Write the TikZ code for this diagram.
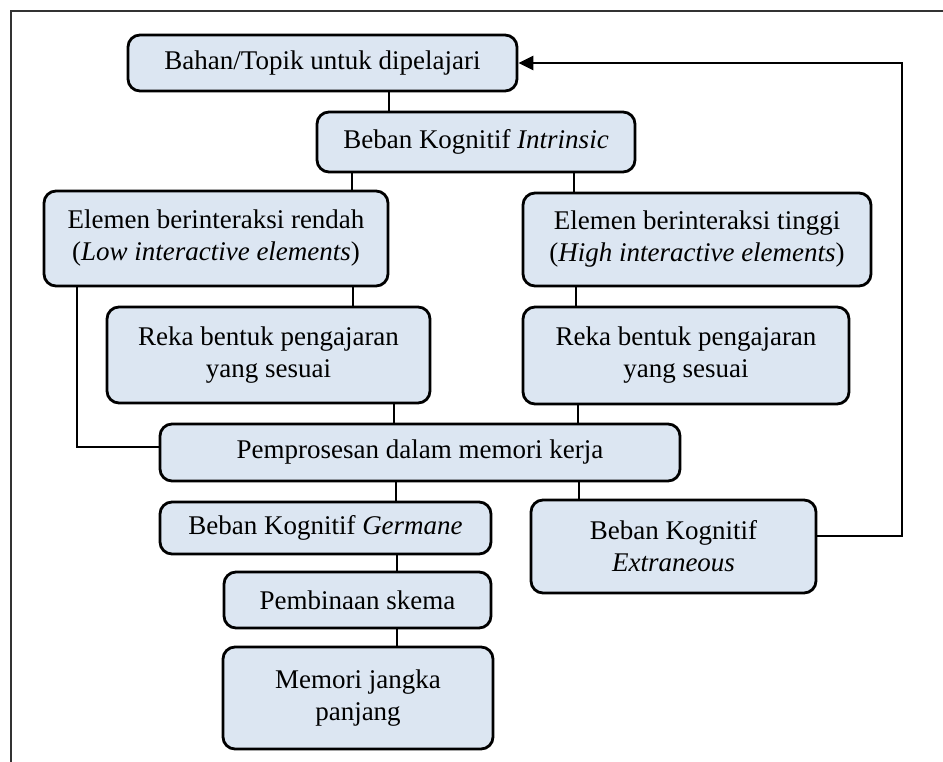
\documentclass[tikz,border=0pt]{standalone}
\usepackage{fontspec}
\setmainfont{Liberation Serif}
\usetikzlibrary{arrows.meta}
\definecolor{boxfill}{HTML}{DCE6F2}
\begin{document}
\begin{tikzpicture}[x=1pt,y=-1pt,
  box/.style={draw=black, fill=boxfill, line width=2.8pt, rounded corners=12pt,
    inner sep=0pt, align=center, font=\fontsize{27}{32}\selectfont},
  link/.style={line width=2.8pt, draw=black},
  frame/.style={line width=1.6pt, draw=black!80}]
\useasboundingbox (0,0) rectangle (943,762);
\draw[frame] (11,762) -- (11,11) -- (943,11);

\node[box, minimum width=389pt, minimum height=56pt] (bahan) at (322.5,63) {Bahan/Topik untuk dipelajari};
\node[box, minimum width=318pt, minimum height=60pt] (intr) at (476,142) {Beban Kognitif \textit{Intrinsic}};
\node[box, minimum width=344pt, minimum height=95pt] (low) at (216,238.5) {Elemen berinteraksi rendah\\(\textit{Low interactive elements})};
\node[box, minimum width=348pt, minimum height=93pt] (high) at (697,239.5) {Elemen berinteraksi tinggi\\(\textit{High interactive elements})};
\node[box, minimum width=323pt, minimum height=96pt] (rekaL) at (268.5,355) {Reka bentuk pengajaran\\yang sesuai};
\node[box, minimum width=326pt, minimum height=97pt] (rekaR) at (686,355.5) {Reka bentuk pengajaran\\yang sesuai};
\node[box, minimum width=520pt, minimum height=57pt] (proc) at (420,452.5) {Pemprosesan dalam memori kerja};
\node[box, minimum width=331pt, minimum height=52pt] (germ) at (325.5,528) {Beban Kognitif \textit{Germane}};
\node[box, minimum width=285pt, minimum height=93pt] (extr) at (673.5,546.5) {Beban Kognitif\\\textit{Extraneous}};
\node[box, minimum width=267pt, minimum height=56pt] (pemb) at (357.5,600) {Pembinaan skema};
\node[box, minimum width=270pt, minimum height=102pt] (mem) at (358,698) {Memori jangka\\panjang};

\coordinate (xa) at (389,0);
\coordinate (xb) at (352,0);
\coordinate (xc) at (574,0);
\coordinate (xd) at (353,0);
\coordinate (xe) at (576,0);
\coordinate (xf) at (394,0);
\coordinate (xg) at (578,0);
\coordinate (xh) at (396,0);
\coordinate (xi) at (579,0);
\coordinate (xj) at (397,0);
\coordinate (xk) at (77,0);

\draw[link] (bahan.south -| xa) -- (intr.north -| xa);
\draw[link] (intr.south -| xb) -- (low.north -| xb);
\draw[link] (intr.south -| xc) -- (high.north -| xc);
\draw[link] (low.south -| xd) -- (rekaL.north -| xd);
\draw[link] (high.south -| xe) -- (rekaR.north -| xe);
\draw[link] (rekaL.south -| xf) -- (proc.north -| xf);
\draw[link] (rekaR.south -| xg) -- (proc.north -| xg);
\draw[link] (proc.south -| xh) -- (germ.north -| xh);
\draw[link] (proc.south -| xi) -- (extr.north -| xi);
\draw[link] (germ.south -| xj) -- (pemb.north -| xj);
\draw[link] (pemb.south -| xj) -- (mem.north -| xj);
\coordinate (lcorner) at (77,447);
\draw[link] (low.south -| xk) -- (lcorner) -- (lcorner -| proc.west);
\coordinate (rbot) at (902,536);
\coordinate (rtop) at (902,63);
\draw[link, -{Triangle[length=15pt,width=14pt]}] (extr.east |- rbot) -- (rbot) -- (rtop) -- (bahan.east);
\end{tikzpicture}
\end{document}
